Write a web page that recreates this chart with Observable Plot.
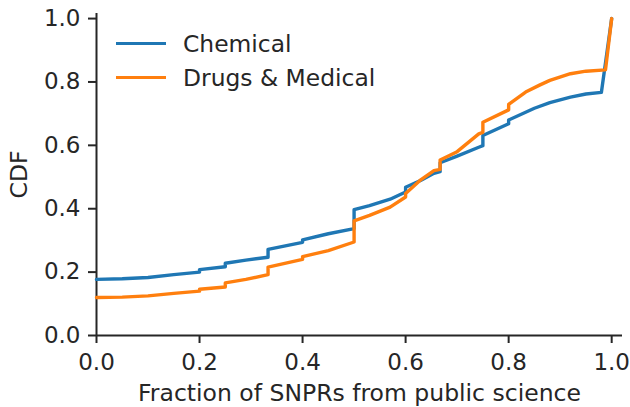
<!DOCTYPE html>
<html><head><meta charset="utf-8">
<script src="https://cdn.jsdelivr.net/npm/d3@7"></script>
<script src="https://cdn.jsdelivr.net/npm/@observablehq/plot@0.6"></script>
<style>
body{margin:0;background:#fff;font-family:"DejaVu Sans",sans-serif;}
#wrap{position:relative;width:630px;height:407px;}
.legend{position:absolute;left:116px;top:27px;font-size:23.4px;color:#262626;font-family:"DejaVu Sans",sans-serif;}
.item{display:flex;align-items:center;height:33.7px;}
.sw{width:50px;height:3.2px;margin-right:17px;}
g[aria-label="x-axis label"] text, g[aria-label="y-axis label"] text{font-size:23.5px;}
g[aria-label="x-axis tick label"] text, g[aria-label="y-axis tick label"] text{font-size:23px;}
</style></head><body><div id="wrap"></div>
<script>
const seriesNames = ["Chemical", "Drugs & Medical"];
const seriesColors = ["#1f77b4", "#ff7f0e"];
const xTicks = [0, 0.2, 0.4, 0.6, 0.8, 1.0];
const yTicks = [0, 0.2, 0.4, 0.6, 0.8, 1.0];

const chemX = [0, 0.05, 0.1, 0.15, 0.2, 0.2, 0.25, 0.25, 0.29, 0.333, 0.333, 0.4, 0.4, 0.45, 0.5, 0.5, 0.53, 0.57, 0.6, 0.6, 0.63, 0.655, 0.667, 0.667, 0.7, 0.742, 0.75, 0.75, 0.8, 0.8, 0.85, 0.88, 0.92, 0.95, 0.98, 1.0];
const chemY = [0.177, 0.179, 0.183, 0.192, 0.200, 0.208, 0.217, 0.228, 0.238, 0.247, 0.272, 0.294, 0.302, 0.321, 0.337, 0.397, 0.410, 0.430, 0.453, 0.468, 0.490, 0.512, 0.517, 0.545, 0.566, 0.594, 0.599, 0.631, 0.668, 0.680, 0.717, 0.735, 0.752, 0.762, 0.767, 1.0];

const drugX = [0, 0.05, 0.1, 0.15, 0.2, 0.2, 0.25, 0.25, 0.29, 0.333, 0.333, 0.4, 0.4, 0.45, 0.5, 0.5, 0.53, 0.57, 0.6, 0.6, 0.63, 0.655, 0.667, 0.667, 0.7, 0.742, 0.75, 0.75, 0.8, 0.8, 0.833, 0.86, 0.88, 0.92, 0.95, 0.988, 1.0];
const drugY = [0.120, 0.121, 0.125, 0.133, 0.140, 0.146, 0.153, 0.166, 0.177, 0.192, 0.216, 0.240, 0.249, 0.268, 0.295, 0.362, 0.379, 0.405, 0.437, 0.448, 0.492, 0.520, 0.524, 0.554, 0.580, 0.636, 0.641, 0.673, 0.712, 0.729, 0.768, 0.790, 0.805, 0.826, 0.834, 0.838, 1.0];

const chem = chemX.map((x, i) => ({x, y: chemY[i]}));
const drug = drugX.map((x, i) => ({x, y: drugY[i]}));
const ink = "#262626";

const chart = Plot.plot({
  width: 630, height: 407,
  marginLeft: 96, marginRight: 8, marginTop: 13, marginBottom: 72,
  style: {fontFamily: "DejaVu Sans, sans-serif", color: ink, background: "#fff", overflow: "visible"},
  x: {domain: [0, 1.021]},
  y: {domain: [0, 1.016]},
  marks: [
    Plot.axisX({ticks: xTicks, tickFormat: d3.format(".1f"), tickSize: 8, tickPadding: 10, stroke: ink, strokeWidth: 2, fill: ink, fontSize: 23,
      label: "Fraction of SNPRs from public science", labelAnchor: "center", labelOffset: 65.5, labelArrow: "none"}),
    Plot.axisY({ticks: yTicks, tickFormat: d3.format(".1f"), tickSize: 8, tickPadding: 8, stroke: ink, strokeWidth: 2, fill: ink, fontSize: 23,
      label: "CDF", labelAnchor: "center", labelOffset: 86, labelArrow: "none"}),
    Plot.ruleX([0], {stroke: ink, strokeWidth: 2}),
    Plot.ruleY([0], {stroke: ink, strokeWidth: 2}),
    Plot.line(chem, {x: "x", y: "y", stroke: seriesColors[0], strokeWidth: 3.4}),
    Plot.line(drug, {x: "x", y: "y", stroke: seriesColors[1], strokeWidth: 3.4})
  ]
});
const wrap = document.getElementById("wrap");
wrap.appendChild(chart);
const leg = document.createElement("div");
leg.className = "legend";
seriesNames.forEach((n, i) => {
  const it = document.createElement("div"); it.className = "item";
  const sw = document.createElement("div"); sw.className = "sw"; sw.style.background = seriesColors[i];
  const t = document.createElement("span"); t.textContent = n;
  it.appendChild(sw); it.appendChild(t); leg.appendChild(it);
});
wrap.appendChild(leg);
</script></body></html>
